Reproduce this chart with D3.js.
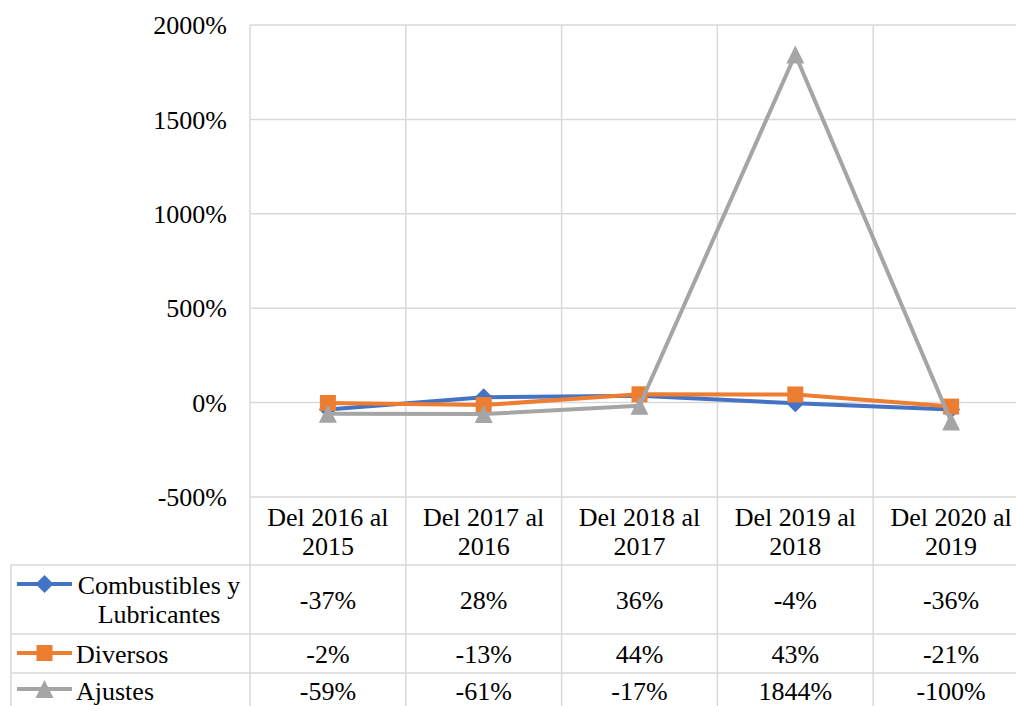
<!DOCTYPE html>
<html>
<head>
<meta charset="utf-8">
<script src="https://cdn.jsdelivr.net/npm/d3@7"></script>
<style>
  body { margin: 0; background: #fff; }
  svg { display: block; }
  text { font-family: "Liberation Serif", "Times New Roman", serif; fill: #000; }
</style>
</head>
<body>
<svg id="chart" width="1016" height="706"></svg>
<script>
// data
var categories = [["Del 2016 al", "2015"], ["Del 2017 al", "2016"], ["Del 2018 al", "2017"], ["Del 2019 al", "2018"], ["Del 2020 al", "2019"]];
var seriesNames = [["Combustibles y", "Lubricantes"], ["Diversos"], ["Ajustes"]];
var combustibles = [-37, 28, 36, -4, -36];
var diversos = [-2, -13, 44, 43, -21];
var ajustes = [-59, -61, -17, 1844, -100];
var yTicks = [-500, 0, 500, 1000, 1500, 2000];

// excel-like marker shapes (size = width in px)
var wideDiamond = { draw: function(ctx, s) {
  var r = s / 2;
  ctx.moveTo(0, -r); ctx.lineTo(r, 0); ctx.lineTo(0, r); ctx.lineTo(-r, 0); ctx.closePath();
} };
var square = { draw: function(ctx, s) {
  var r = s / 2;
  ctx.rect(-r, -r, s, s);
} };
var triangle = { draw: function(ctx, s) {
  var r = s / 2;
  ctx.moveTo(0, -r); ctx.lineTo(r, r); ctx.lineTo(-r, r); ctx.closePath();
} };

var series = [
  { name: seriesNames[0], values: combustibles, color: "#4472C4", symbol: wideDiamond, size: 18 },
  { name: seriesNames[1], values: diversos, color: "#ED7D31", symbol: square, size: 16 },
  { name: seriesNames[2], values: ajustes, color: "#A5A5A5", symbol: triangle, size: 18 }
];

var svg = d3.select("#chart");
var fontSize = 26;
var gridColor = "#d9d9d9";

// plot area bounds
var plotLeft = 250, plotRight = 1029, plotTop = 25, plotBottom = 497;
var tableLeft = 11;
var rowTops = [497, 565, 634, 673]; // category row, then one per series

var x = d3.scaleBand()
    .domain(d3.range(categories.length))
    .range([plotLeft, plotRight]);

var y = d3.scaleLinear()
    .domain([-500, 2000])
    .range([plotBottom, plotTop]);

// horizontal gridlines
svg.append("g")
  .selectAll("line")
  .data(yTicks)
  .enter().append("line")
    .attr("x1", plotLeft).attr("x2", plotRight)
    .attr("y1", function(d) { return y(d); })
    .attr("y2", function(d) { return y(d); })
    .attr("stroke", gridColor)
    .attr("stroke-width", 1.5);

// vertical lines (plot + table)
svg.append("g")
  .selectAll("line")
  .data(d3.range(categories.length + 1))
  .enter().append("line")
    .attr("x1", function(i) { return plotLeft + i * x.bandwidth(); })
    .attr("x2", function(i) { return plotLeft + i * x.bandwidth(); })
    .attr("y1", plotTop).attr("y2", 706)
    .attr("stroke", gridColor)
    .attr("stroke-width", 1.5);

// table row lines
svg.append("g")
  .selectAll("line")
  .data(rowTops.slice(1))
  .enter().append("line")
    .attr("x1", tableLeft).attr("x2", plotRight)
    .attr("y1", function(d) { return d; })
    .attr("y2", function(d) { return d; })
    .attr("stroke", gridColor)
    .attr("stroke-width", 1.5);

svg.append("line")
  .attr("x1", tableLeft).attr("x2", tableLeft)
  .attr("y1", rowTops[1]).attr("y2", 706)
  .attr("stroke", gridColor)
  .attr("stroke-width", 1.5);

// y axis labels
svg.append("g")
  .selectAll("text")
  .data(yTicks)
  .enter().append("text")
    .attr("x", 227)
    .attr("y", function(d) { return y(d); })
    .attr("dy", "0.35em")
    .attr("text-anchor", "end")
    .style("font-size", fontSize + "px")
    .text(function(d) { return d + "%"; });

// category labels
var cat = svg.append("g")
  .selectAll("text")
  .data(categories)
  .enter().append("text")
    .attr("text-anchor", "middle")
    .style("font-size", fontSize + "px");
cat.selectAll("tspan")
  .data(function(d, i) { return d.map(function(t) { return { t: t, i: i }; }); })
  .enter().append("tspan")
    .attr("x", function(d) { return x(d.i) + x.bandwidth() / 2; })
    .attr("y", function(d, j) { return 526 + j * 29; })
    .text(function(d) { return d.t; });

// lines and markers
var line = d3.line()
  .x(function(d, i) { return x(i) + x.bandwidth() / 2; })
  .y(function(d) { return y(d); });

series.forEach(function(s) {
  svg.append("path")
    .datum(s.values)
    .attr("d", line)
    .attr("fill", "none")
    .attr("stroke", s.color)
    .attr("stroke-width", 4)
    .attr("stroke-linejoin", "round");

  svg.append("g")
    .selectAll("path")
    .data(s.values)
    .enter().append("path")
      .attr("d", d3.symbol().type(s.symbol).size(s.size))
      .attr("transform", function(d, i) {
        return "translate(" + (x(i) + x.bandwidth() / 2) + "," + y(d) + ")";
      })
      .attr("fill", s.color);
});

// data table rows
var rowMids = [600, 654, 691];
var keyY = [584, 653, 689];
series.forEach(function(s, k) {
  var mid = rowMids[k];

  // legend key
  svg.append("line")
    .attr("x1", 17).attr("x2", 72)
    .attr("y1", keyY[k]).attr("y2", keyY[k])
    .attr("stroke", s.color)
    .attr("stroke-width", 4);
  svg.append("path")
    .attr("d", d3.symbol().type(s.symbol).size(s.size))
    .attr("transform", "translate(44.5," + keyY[k] + ")")
    .attr("fill", s.color);

  var lbl = svg.append("text")
    .style("font-size", fontSize + "px");
  if (s.name.length > 1) {
    lbl.attr("text-anchor", "middle");
    lbl.selectAll("tspan")
      .data(s.name)
      .enter().append("tspan")
        .attr("x", 159)
        .attr("y", function(d, j) { return mid - 15 + j * 29; })
        .attr("dy", "0.35em")
        .text(function(d) { return d; });
  } else {
    lbl.attr("x", 76).attr("y", mid).attr("dy", "0.35em").text(s.name[0]);
  }

  svg.append("g")
    .selectAll("text")
    .data(s.values)
    .enter().append("text")
      .attr("x", function(d, i) { return x(i) + x.bandwidth() / 2; })
      .attr("y", mid)
      .attr("dy", "0.35em")
      .attr("text-anchor", "middle")
      .style("font-size", fontSize + "px")
      .text(function(d) { return d + "%"; });
});
</script>
</body>
</html>
